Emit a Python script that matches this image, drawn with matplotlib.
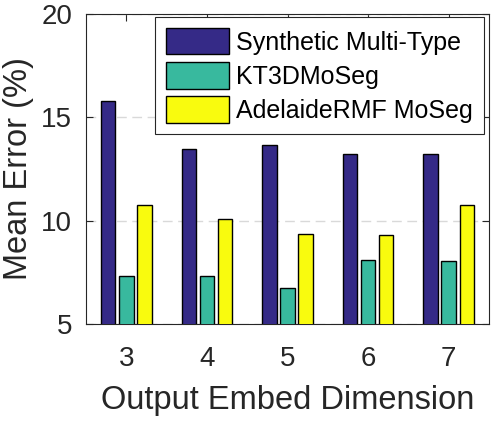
import matplotlib
matplotlib.use("Agg")
import matplotlib.pyplot as plt
import numpy as np

plt.rcParams['font.family'] = ['Liberation Sans', 'DejaVu Sans']

dims = [3, 4, 5, 6, 7]
synthetic = [15.8, 13.47, 13.65, 13.21, 13.21]
kt3d = [7.31, 7.3, 6.76, 8.11, 8.07]
adelaide = [10.78, 10.07, 9.37, 9.32, 10.78]
labels = ['Synthetic Multi-Type', 'KT3DMoSeg', 'AdelaideRMF MoSeg']
colors = ['#352a87', '#38b99e', '#f9fb0e']

fig = plt.figure(figsize=(4.98, 4.25), dpi=100)
ax = fig.add_axes([86/498, 1 - 324/425, (489-86)/498, (324-14)/425])

x = np.array(dims)
w = 0.18
off = 0.225
for i, vals in enumerate([synthetic, kt3d, adelaide]):
    ax.bar(x + (i - 1) * off, vals, w, color=colors[i], edgecolor='black',
           linewidth=1.0, label=labels[i], zorder=3)

ax.set_xlim(2.5, 7.5)
ax.set_ylim(5, 20)
ax.set_xticks(dims)
ax.set_yticks([5, 10, 15, 20])
ax.yaxis.grid(True, linestyle=(0, (7, 4)), color='#d9d9d9', linewidth=1, zorder=0)
ax.tick_params(direction='in', top=True, right=True, labelsize=20, colors='#262626',
               length=5, width=0.8)
ax.tick_params(axis='x', pad=15.5)
ax.tick_params(axis='y', pad=10)
for s in ax.spines.values():
    s.set_color('#262626')
    s.set_linewidth(0.8)

ax.set_xlabel('Output Embed Dimension', fontsize=23.5, color='#262626', labelpad=10)
ax.set_ylabel('Mean Error (%)', fontsize=23.5, color='#262626', labelpad=5)

leg = ax.legend(loc='upper right', bbox_to_anchor=(0.988, 0.991), borderaxespad=0,
                fontsize=18, fancybox=False, framealpha=1,
                edgecolor='#262626', handlelength=2.5, handleheight=1.25,
                handletextpad=0.3, labelspacing=0.3, borderpad=0.45)
leg.get_frame().set_linewidth(0.8)

fig.savefig('out.png', dpi=100)
